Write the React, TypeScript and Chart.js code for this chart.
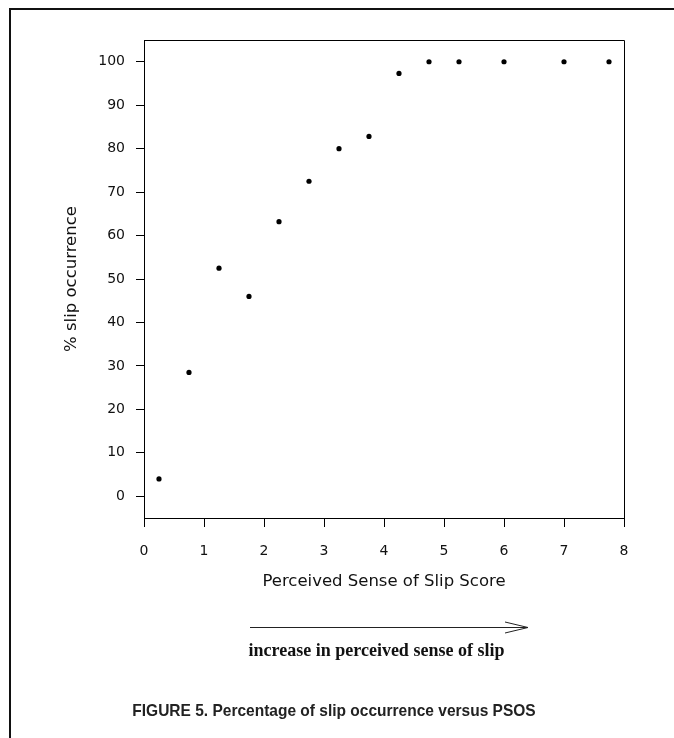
import React, { useEffect, useRef } from "react";
import { Chart, registerables } from "chart.js";

Chart.register(...registerables);

const psosScores = [0.25, 0.75, 1.25, 1.75, 2.25, 2.75, 3.25, 3.75, 4.25, 4.75, 5.25, 6, 7, 7.75];
const slipPercent = [4, 28.5, 52.5, 46, 63.2, 72.5, 80, 82.8, 97.3, 100, 100, 100, 100, 100];
const yTickValues = [0, 10, 20, 30, 40, 50, 60, 70, 80, 90, 100];
const xTickValues = [0, 1, 2, 3, 4, 5, 6, 7, 8];

const xTitle = "Perceived Sense of Slip Score";
const yTitle = "% slip occurrence";
const arrowLabel = "increase in perceived sense of slip";
const caption = "FIGURE 5. Percentage of slip occurrence versus PSOS";

const framePlugin = {
  id: "frame",
  afterDraw(chart: any) {
    const { ctx, chartArea } = chart;
    ctx.save();
    ctx.strokeStyle = "#000";
    ctx.lineWidth = 1;
    ctx.beginPath();
    ctx.moveTo(Math.round(chartArea.left) + 0.5, Math.round(chartArea.top) + 0.5);
    ctx.lineTo(Math.round(chartArea.right) + 0.5, Math.round(chartArea.top) + 0.5);
    ctx.lineTo(Math.round(chartArea.right) + 0.5, Math.round(chartArea.bottom) + 0.5);
    ctx.stroke();
    ctx.restore();
  },
};

export default function App() {
  const canvasRef = useRef<HTMLCanvasElement | null>(null);

  useEffect(() => {
    if (!canvasRef.current) return;
    const font = "'DejaVu Sans', sans-serif";
    const chart = new Chart(canvasRef.current, {
      type: "scatter",
      data: {
        datasets: [
          {
            data: psosScores.map((x, i) => ({ x, y: slipPercent[i] })),
            backgroundColor: "#000",
            borderColor: "#000",
            borderWidth: 0,
            pointRadius: 2.6,
            pointHoverRadius: 2.6,
          },
        ],
      },
      options: {
        animation: false,
        responsive: false,
        maintainAspectRatio: false,
        events: [],
        layout: { padding: { left: 0, top: 40, right: 50, bottom: 146 } },
        plugins: { legend: { display: false }, tooltip: { enabled: false } },
        scales: {
          x: {
            type: "linear",
            min: 0,
            max: 8,
            afterBuildTicks: (axis: any) => {
              axis.ticks = xTickValues.map((v) => ({ value: v }));
            },
            afterFit: (axis: any) => {
              axis.height = 74;
            },
            grid: {
              display: true,
              drawOnChartArea: false,
              drawTicks: true,
              tickLength: 9,
              color: "#000",
              lineWidth: 1,
            },
            border: { display: true, color: "#000", width: 1 },
            ticks: {
              color: "#111",
              font: { family: font, size: 14 },
              padding: 16,
              maxRotation: 0,
              autoSkip: false,
              callback: (v: any) => String(v),
            },
            title: {
              display: true,
              text: xTitle,
              color: "#111",
              font: { family: font, size: 16.5 },
              padding: { top: 0, bottom: 0 },
            },
          },
          y: {
            type: "linear",
            min: -5,
            max: 105,
            afterBuildTicks: (axis: any) => {
              axis.ticks = yTickValues.map((v) => ({ value: v }));
            },
            afterFit: (axis: any) => {
              axis.width = 144;
            },
            grid: {
              display: true,
              drawOnChartArea: false,
              drawTicks: true,
              tickLength: 8,
              color: "#000",
              lineWidth: 1,
            },
            border: { display: true, color: "#000", width: 1 },
            ticks: {
              color: "#111",
              font: { family: font, size: 14 },
              padding: 11,
              autoSkip: false,
              callback: (v: any) => String(v),
            },
            title: {
              display: true,
              text: yTitle,
              color: "#111",
              font: { family: font, size: 16.5 },
              padding: { top: 62, bottom: 0 },
            },
          },
        },
      },
      plugins: [framePlugin],
    });
    return () => chart.destroy();
  }, []);

  return (
    <div style={{ position: "absolute", left: 0, top: 0, width: 674, height: 738, background: "#fff", overflow: "hidden" }}>
      <div
        style={{
          position: "absolute",
          left: 9,
          top: 8,
          width: 700,
          height: 760,
          borderLeft: "2px solid #111",
          borderTop: "2px solid #111",
        }}
      />
      <canvas ref={canvasRef} width={674} height={738} style={{ position: "absolute", left: 0, top: 0, width: 674, height: 738 }} />
      <svg width={674} height={738} style={{ position: "absolute", left: 0, top: 0 }}>
        <line x1={250} y1={627.5} x2={528} y2={627.5} stroke="#222" strokeWidth={1} />
        <line x1={528} y1={627.5} x2={505} y2={622} stroke="#222" strokeWidth={1} />
        <line x1={528} y1={627.5} x2={505} y2={633} stroke="#222" strokeWidth={1} />
      </svg>
      <div
        style={{
          position: "absolute",
          left: 0,
          width: 753,
          top: 639,
          textAlign: "center",
          fontFamily: "'Liberation Serif', serif",
          fontWeight: "bold",
          fontSize: 18,
          lineHeight: "22px",
          color: "#111",
          whiteSpace: "nowrap",
        }}
      >
        {arrowLabel}
      </div>
      <div
        style={{
          position: "absolute",
          left: -3,
          width: 674,
          top: 699,
          textAlign: "center",
          fontFamily: "'Liberation Sans', Arial, sans-serif",
          fontWeight: "bold",
          fontSize: 16.5,
          lineHeight: "22px",
          color: "#222",
          whiteSpace: "nowrap",
          transform: "scaleX(0.94)",
        }}
      >
        {caption}
      </div>
    </div>
  );
}
